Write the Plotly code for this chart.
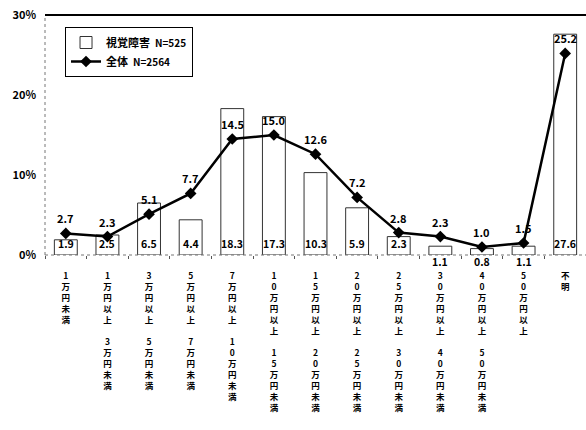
import plotly.graph_objects as go

# Household income brackets (vertical, one character per line)
categories = [
    "1万円未満",
    "1万円以上3万円未満",
    "3万円以上5万円未満",
    "5万円以上7万円未満",
    "7万円以上10万円未満",
    "10万円以上15万円未満",
    "15万円以上20万円未満",
    "20万円以上25万円未満",
    "25万円以上30万円未満",
    "30万円以上40万円未満",
    "40万円以上50万円未満",
    "50万円以上",
    "不明",
]
tick_labels = [
    "1<br>万<br>円<br>未<br>満",
    "1<br>万<br>円<br>以<br>上<br><br>3<br>万<br>円<br>未<br>満",
    "3<br>万<br>円<br>以<br>上<br><br>5<br>万<br>円<br>未<br>満",
    "5<br>万<br>円<br>以<br>上<br><br>7<br>万<br>円<br>未<br>満",
    "7<br>万<br>円<br>以<br>上<br><br>1<br>0<br>万<br>円<br>未<br>満",
    "1<br>0<br>万<br>円<br>以<br>上<br><br>1<br>5<br>万<br>円<br>未<br>満",
    "1<br>5<br>万<br>円<br>以<br>上<br><br>2<br>0<br>万<br>円<br>未<br>満",
    "2<br>0<br>万<br>円<br>以<br>上<br><br>2<br>5<br>万<br>円<br>未<br>満",
    "2<br>5<br>万<br>円<br>以<br>上<br><br>3<br>0<br>万<br>円<br>未<br>満",
    "3<br>0<br>万<br>円<br>以<br>上<br><br>4<br>0<br>万<br>円<br>未<br>満",
    "4<br>0<br>万<br>円<br>以<br>上<br><br>5<br>0<br>万<br>円<br>未<br>満",
    "5<br>0<br>万<br>円<br>以<br>上",
    "不<br>明",
]
y_ticks = [0, 10, 20, 30]
y_tick_labels = ["0%", "10%", "20%", "30%"]
visual_impairment = [1.9, 2.5, 6.5, 4.4, 18.3, 17.3, 10.3, 5.9, 2.3, 1.1, 0.8, 1.1, 27.6]
overall = [2.7, 2.3, 5.1, 7.7, 14.5, 15.0, 12.6, 7.2, 2.8, 2.3, 1.0, 1.5, 25.2]

FONT = "Noto Sans CJK JP, Noto Sans, sans-serif"

fig = go.Figure()
fig.add_trace(go.Bar(
    x=categories, y=visual_impairment,
    name="<b>視覚障害</b>  <span style='font-size:10px'><b>N=525</b></span>",
    marker=dict(color="white", line=dict(color="#333333", width=1)),
    width=0.55,
))
fig.add_trace(go.Scatter(
    x=categories, y=overall, mode="lines+markers",
    name="<b>全体</b>  <span style='font-size:10px'><b>N=2564</b></span>",
    line=dict(color="black", width=2.5),
    marker=dict(symbol="diamond", size=9, color="black"),
))

# Value labels: overall above markers, bars near the base (below axis when tiny)
for c, v in zip(categories, overall):
    fig.add_annotation(x=c, y=v, text=f"<b>{v:.1f}</b>", showarrow=False,
                       yshift=15, font=dict(size=11, color="black", family=FONT))
for c, v in zip(categories, visual_impairment):
    fig.add_annotation(x=c, y=0, text=f"<b>{v:.1f}</b>", showarrow=False,
                       yshift=12 if v >= 1.5 else -6,
                       font=dict(size=10.5, color="black", family=FONT))

# Frame lines: solid top edge, dotted left and bottom axes
fig.add_shape(type="line", xref="paper", yref="paper", x0=0, x1=1, y0=1, y1=1,
              line=dict(color="black", width=2))
fig.add_shape(type="line", xref="paper", yref="paper", x0=0, x1=0, y0=0, y1=1,
              line=dict(color="#777777", width=1, dash="dot"))
fig.add_shape(type="line", xref="paper", yref="paper", x0=0, x1=1, y0=0, y1=0,
              line=dict(color="#777777", width=1, dash="dot"))

fig.update_layout(
    width=586, height=430,
    margin=dict(l=45, r=0, t=15, b=175),
    paper_bgcolor="white", plot_bgcolor="white",
    font=dict(family=FONT, color="black"),
    showlegend=True,
    legend=dict(
        x=0.037, y=0.95, xanchor="left", yanchor="top",
        bordercolor="black", borderwidth=1, bgcolor="white",
        font=dict(size=11, family=FONT),
        traceorder="normal", itemwidth=30,
    ),
    xaxis=dict(
        tickmode="array", tickvals=categories, ticktext=tick_labels,
        tickangle=0, tickfont=dict(size=8.5, family=FONT, weight="bold"),
        tickson="boundaries", ticks="outside", ticklen=3, tickcolor="#555555",
        showline=False, showgrid=False, range=[-0.5, 12.5],
        ticklabelstandoff=14,
    ),
    yaxis=dict(
        range=[0, 30], tickmode="array", tickvals=y_ticks, ticktext=y_tick_labels,
        tickfont=dict(size=11, family=FONT, weight="bold"),
        showgrid=False, showline=False, zeroline=False,
        ticklabelstandoff=8,
    ),
)

fig.write_html("out.html")
